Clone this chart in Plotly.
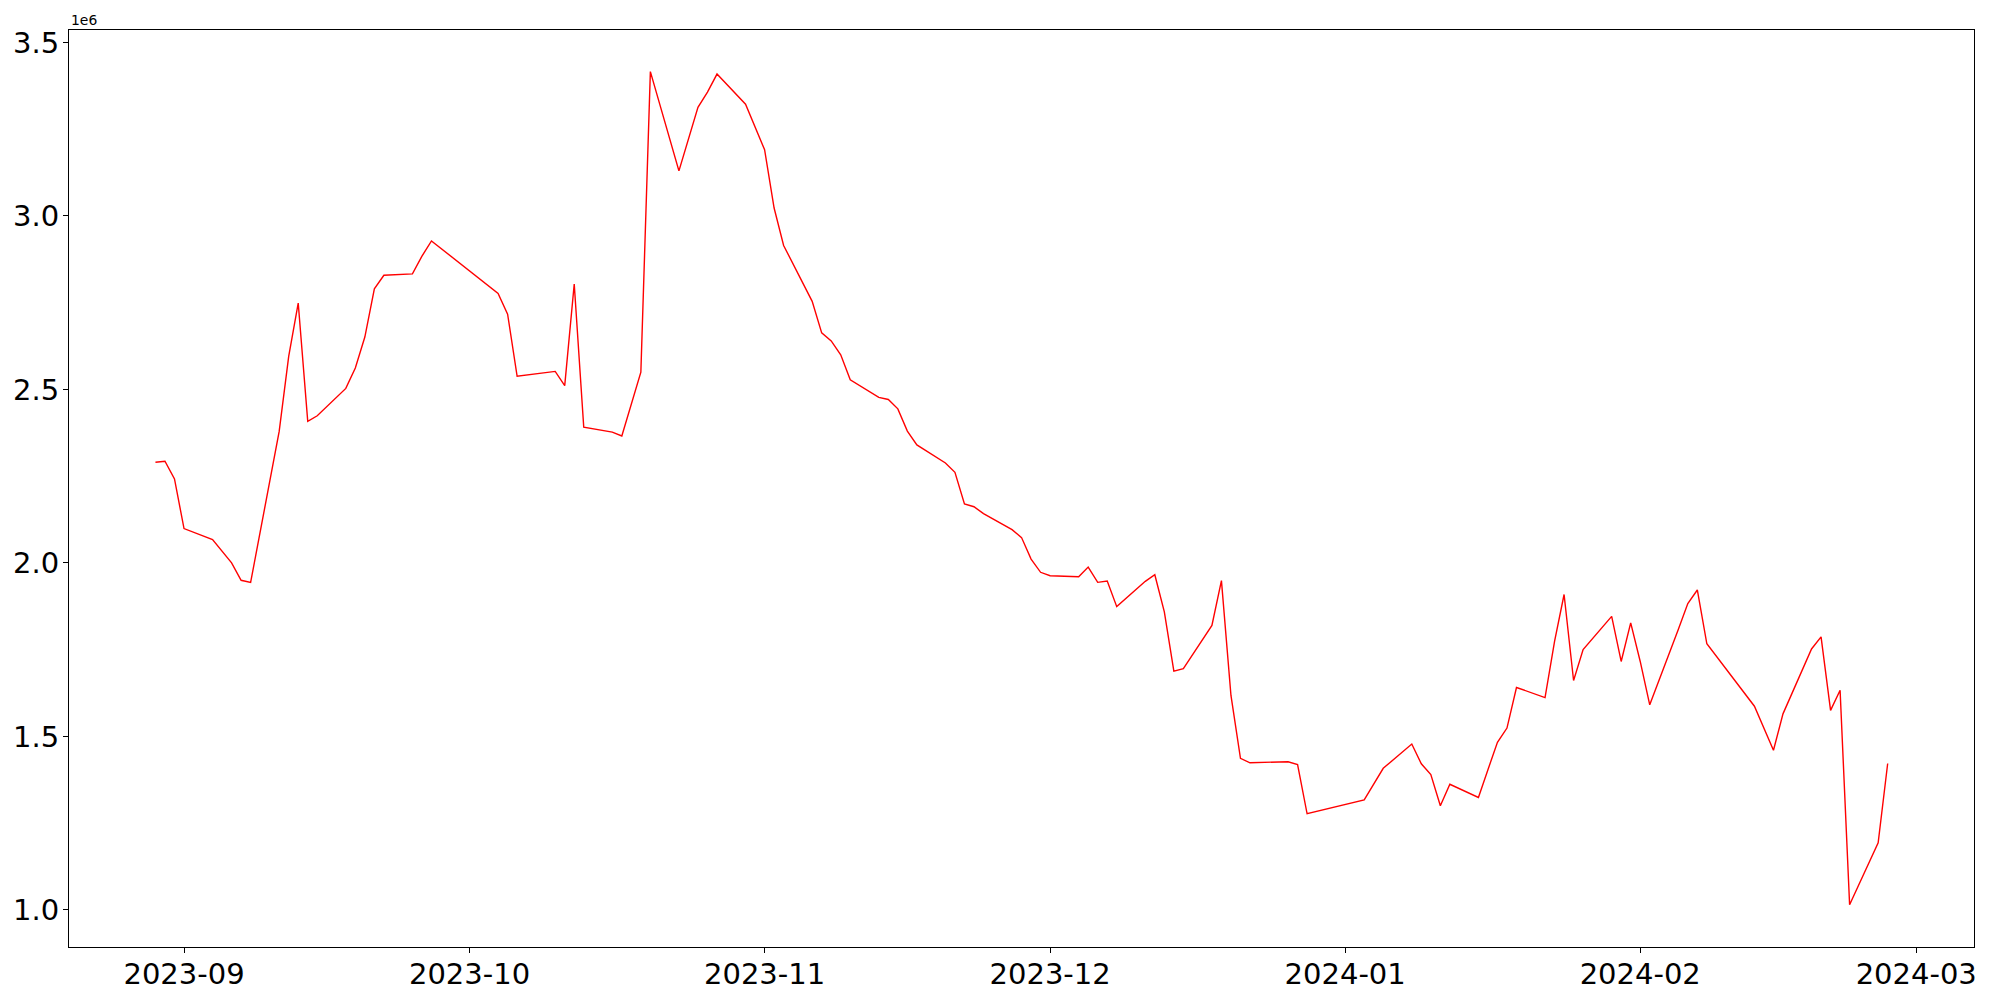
import plotly.graph_objects as go

dates = [
    "2023-08-29", "2023-08-30", "2023-08-31", "2023-09-01", "2023-09-04", "2023-09-05",
    "2023-09-06", "2023-09-07", "2023-09-08", "2023-09-11", "2023-09-12", "2023-09-13",
    "2023-09-14", "2023-09-15", "2023-09-18", "2023-09-19", "2023-09-20", "2023-09-21",
    "2023-09-22", "2023-09-25", "2023-09-26", "2023-09-27", "2023-10-04", "2023-10-05",
    "2023-10-06", "2023-10-10", "2023-10-11", "2023-10-12", "2023-10-13", "2023-10-16",
    "2023-10-17", "2023-10-19", "2023-10-20", "2023-10-23", "2023-10-25", "2023-10-26",
    "2023-10-27", "2023-10-30", "2023-10-31", "2023-11-01", "2023-11-02", "2023-11-03",
    "2023-11-06", "2023-11-07", "2023-11-08", "2023-11-09", "2023-11-10", "2023-11-13",
    "2023-11-14", "2023-11-15", "2023-11-16", "2023-11-17", "2023-11-20", "2023-11-21",
    "2023-11-22", "2023-11-23", "2023-11-24", "2023-11-27", "2023-11-28", "2023-11-29",
    "2023-11-30", "2023-12-01", "2023-12-04", "2023-12-05", "2023-12-06", "2023-12-07",
    "2023-12-08", "2023-12-11", "2023-12-12", "2023-12-13", "2023-12-14", "2023-12-15",
    "2023-12-18", "2023-12-19", "2023-12-20", "2023-12-21", "2023-12-22", "2023-12-26",
    "2023-12-27", "2023-12-28", "2024-01-03", "2024-01-04", "2024-01-05", "2024-01-08",
    "2024-01-09", "2024-01-10", "2024-01-11", "2024-01-12", "2024-01-15", "2024-01-16",
    "2024-01-17", "2024-01-18", "2024-01-19", "2024-01-22", "2024-01-23", "2024-01-24",
    "2024-01-25", "2024-01-26", "2024-01-29", "2024-01-30", "2024-01-31", "2024-02-01",
    "2024-02-02", "2024-02-05", "2024-02-06", "2024-02-07", "2024-02-08", "2024-02-13",
    "2024-02-15", "2024-02-16", "2024-02-19", "2024-02-20", "2024-02-21", "2024-02-22",
    "2024-02-23", "2024-02-26", "2024-02-27",
]

values = [
    2290000, 2293000, 2242000, 2099000, 2067000, 2035000,
    2000000, 1950000, 1944000, 2379000, 2595000, 2749000,
    2408000, 2424000, 2503000, 2562000, 2651000, 2790000,
    2829000, 2833000, 2884000, 2928000, 2777000, 2717000,
    2538000, 2552000, 2511000, 2804000, 2391000, 2377000,
    2366000, 2550000, 3416000, 3130000, 3313000, 3357000,
    3409000, 3322000, 3258000, 3191000, 3023000, 2915000,
    2754000, 2663000, 2640000, 2600000, 2528000, 2477000,
    2471000, 2444000, 2380000, 2340000, 2288000, 2261000,
    2170000, 2162000, 2142000, 2096000, 2073000, 2011000,
    1973000, 1963000, 1960000, 1988000, 1944000, 1948000,
    1874000, 1947000, 1966000, 1859000, 1688000, 1695000,
    1820000, 1949000, 1618000, 1437000, 1424000, 1427000,
    1419000, 1277000, 1317000, 1361000, 1408000, 1478000,
    1421000, 1390000, 1300000, 1362000, 1324000, 1404000,
    1483000, 1524000, 1641000, 1612000, 1774000, 1909000,
    1661000, 1750000, 1846000, 1716000, 1827000, 1716000,
    1591000, 1808000, 1883000, 1922000, 1767000, 1587000,
    1460000, 1565000, 1752000, 1787000, 1575000, 1633000,
    1015000, 1193000, 1422000,
]

x_tickvals = ["2023-09-01", "2023-10-01", "2023-11-01", "2023-12-01",
              "2024-01-01", "2024-02-01", "2024-03-01"]
x_ticktext = ["2023-09", "2023-10", "2023-11", "2023-12", "2024-01", "2024-02", "2024-03"]
y_tickvals = [1000000, 1500000, 2000000, 2500000, 3000000, 3500000]
y_ticktext = ["1.0", "1.5", "2.0", "2.5", "3.0", "3.5"]

FONT = "DejaVu Sans"

fig = go.Figure()
fig.add_trace(go.Scatter(
    x=dates, y=values, mode="lines",
    line=dict(color="#ff0000", width=1.4),
    showlegend=False,
))

axis_common = dict(
    showgrid=False, zeroline=False, automargin=False,
    showline=True, linecolor="black", linewidth=1.1, mirror=True,
    ticks="outside", ticklen=5, tickwidth=1.1, tickcolor="black",
    tickfont=dict(family=FONT, size=29, color="black"),
)

# page body has an 8px margin, so the figure starts at (8, 8)
fig.update_layout(
    width=1984, height=992,
    margin=dict(l=61, r=18, t=22, b=53, autoexpand=False),
    paper_bgcolor="white", plot_bgcolor="white",
    xaxis=dict(type="date", range=["2023-08-19 22:00", "2024-03-07 01:40"],
               tickvals=x_tickvals, ticktext=x_ticktext, ticklabelstandoff=-4,
               **axis_common),
    yaxis=dict(range=[893000, 3536000], tickvals=y_tickvals, ticktext=y_ticktext,
               ticklabelstandoff=-2, **axis_common),
    annotations=[dict(
        text="1e6", xref="paper", yref="paper", x=0, y=1,
        xanchor="left", yanchor="bottom", showarrow=False, yshift=0,
        font=dict(family=FONT, size=13.9, color="black"),
    )],
)

fig.write_html("out.html")
